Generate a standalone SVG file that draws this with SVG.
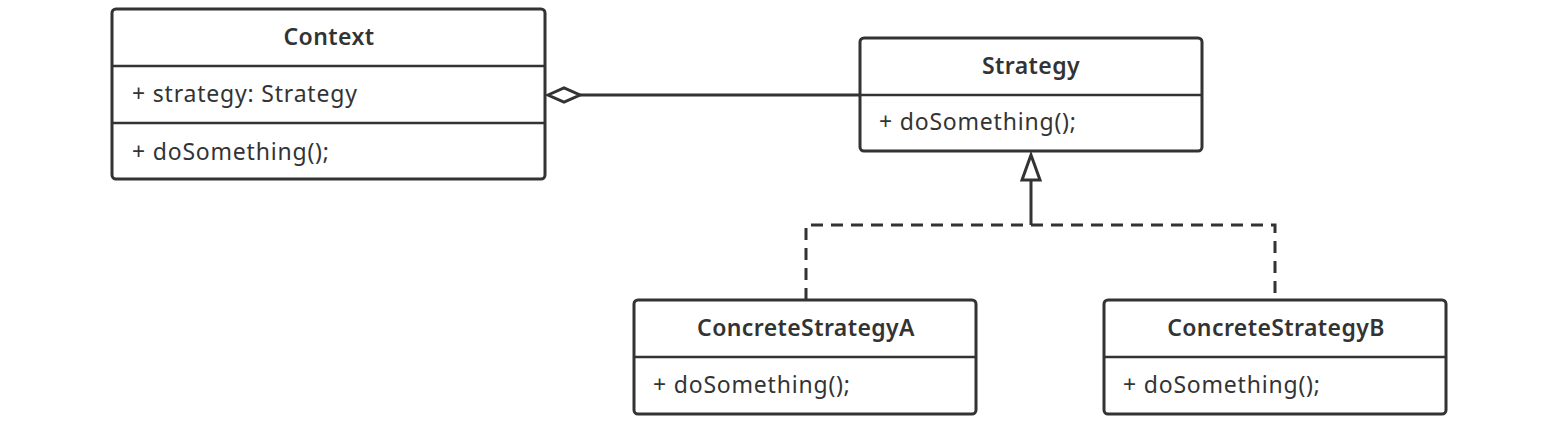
<svg xmlns="http://www.w3.org/2000/svg" width="1550" height="436" viewBox="0 0 1550 436">
<style>
.box{fill:#fff;stroke:#333;stroke-width:3}
.div{stroke:#333;stroke-width:2.5}
.t{font-family:"Noto Sans","Liberation Sans",Arial,sans-serif;font-size:23px;fill:#333;font-weight:600;letter-spacing:0.4px}
.m{font-family:"Noto Sans","Liberation Sans",Arial,sans-serif;font-size:23px;fill:#333;letter-spacing:0.8px}
.c{fill:none;stroke:#333;stroke-width:3}
.d{fill:none;stroke:#333;stroke-width:3;stroke-dasharray:12,8}
</style>
<rect width="1550" height="436" fill="#fff"/>
<g id="connectors">
<line class="c" x1="580" y1="95" x2="860" y2="95"/>
<polygon points="548,95 564,88 580,95 564,102" fill="#fff" stroke="#333" stroke-width="3"/>
<line class="c" x1="1031" y1="180" x2="1031" y2="225"/>
<polygon points="1031,155 1040,180 1022,180" fill="#fff" stroke="#333" stroke-width="3"/>
<polyline class="d" points="806,300 806,225 1275,225 1275,300"/>
</g>
<g id="context">
<rect class="box" x="112" y="9" width="433" height="170" rx="4"/>
<line class="div" x1="112" y1="66" x2="545" y2="66"/>
<line class="div" x1="112" y1="123" x2="545" y2="123"/>
<text class="t" x="329" y="45" text-anchor="middle">Context</text>
<text class="m" x="132" y="102">+ strategy: Strategy</text>
<text class="m" x="132" y="160">+ doSomething();</text>
</g>
<g id="strategy">
<rect class="box" x="860" y="38" width="342" height="113" rx="4"/>
<line class="div" x1="860" y1="95" x2="1202" y2="95"/>
<text class="t" x="1031" y="74" text-anchor="middle">Strategy</text>
<text class="m" x="879" y="130">+ doSomething();</text>
</g>
<g id="concreteA">
<rect class="box" x="634" y="300" width="342" height="114" rx="4"/>
<line class="div" x1="634" y1="357" x2="976" y2="357"/>
<text class="t" x="806" y="336" text-anchor="middle">ConcreteStrategyA</text>
<text class="m" x="653" y="393">+ doSomething();</text>
</g>
<g id="concreteB">
<rect class="box" x="1104" y="300" width="342" height="114" rx="4"/>
<line class="div" x1="1104" y1="357" x2="1446" y2="357"/>
<text class="t" x="1276" y="336" text-anchor="middle">ConcreteStrategyB</text>
<text class="m" x="1123" y="393">+ doSomething();</text>
</g>
</svg>
